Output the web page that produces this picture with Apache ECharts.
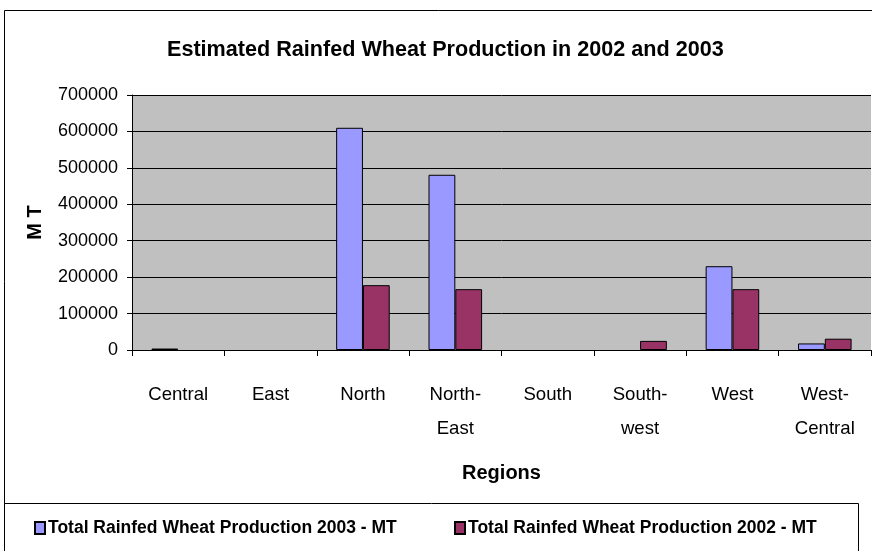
<!DOCTYPE html>
<html>
<head>
<meta charset="utf-8">
<script src="https://cdn.jsdelivr.net/npm/echarts@6/dist/echarts.min.js"></script>
<style>
html, body { margin: 0; padding: 0; background: #fff; }
#chart { width: 872px; height: 551px; }
</style>
</head>
<body>
<div id="chart"></div>
<script>
// Regions along the category axis
const regions = ['Central', 'East', 'North', 'North-\nEast', 'South', 'South-\nwest', 'West', 'West-\nCentral'];
// Production per region, metric tonnes
const production2003 = [4000, 0, 610000, 481000, 0, 0, 230000, 18000];
const production2002 = [0, 0, 178000, 167000, 0, 25000, 167000, 31000];
const seriesNames = ['Total Rainfed Wheat Production 2003 - MT', 'Total Rainfed Wheat Production 2002 - MT'];

const FONT = '"Liberation Sans", Arial, Helvetica, sans-serif';

// Empty regions get no outlined sliver on the axis
function barData(values) {
  return values.map(v => v === 0 ? { value: 0, itemStyle: { borderWidth: 0, opacity: 0 } } : v);
}

const legendText = { fontFamily: FONT, fontWeight: 'bold', fontSize: 17.5, color: '#000', padding: [0, 0, 0, -2] };

const chart = echarts.init(document.getElementById('chart'), null, { renderer: 'canvas' });

chart.setOption({
  animation: false,
  backgroundColor: '#ffffff',
  title: {
    text: 'Estimated Rainfed Wheat Production in 2002 and 2003',
    left: 162,
    top: 34,
    textStyle: { fontFamily: FONT, fontWeight: 'bold', fontSize: 21.6, color: '#000' }
  },
  graphic: [
    {
      type: 'rect', z: -10, silent: true,
      shape: { x: 4.5, y: 10.5, width: 900, height: 600 },
      style: { fill: 'none', stroke: '#000', lineWidth: 1 }
    },
    {
      type: 'rect', z: -5, silent: true,
      shape: { x: 4.5, y: 503.5, width: 854, height: 100 },
      style: { fill: '#fff', stroke: '#000', lineWidth: 1 }
    }
  ],
  legend: [
    {
      data: [seriesNames[0]],
      top: 519, left: 34, padding: 0,
      itemWidth: 10, itemHeight: 12, itemGap: 0,
      icon: 'rect',
      textStyle: legendText
    },
    {
      data: [seriesNames[1]],
      top: 519, left: 454, padding: 0,
      itemWidth: 10, itemHeight: 12, itemGap: 0,
      icon: 'rect',
      textStyle: legendText
    }
  ],
  grid: { left: 132, right: 1, top: 95, bottom: 201, backgroundColor: '#c0c0c0', show: true, borderWidth: 0 },
  xAxis: {
    type: 'category',
    data: regions,
    name: 'Regions',
    nameLocation: 'middle',
    nameGap: 113,
    nameTextStyle: { fontFamily: FONT, fontWeight: 'bold', fontSize: 20, color: '#000' },
    axisLine: { lineStyle: { color: '#000', width: 1 } },
    axisTick: { show: true, length: 6, lineStyle: { color: '#000' } },
    axisLabel: {
      fontFamily: FONT, fontSize: 18.6, color: '#000', margin: 28, lineHeight: 34,
      verticalAlign: 'top', interval: 0
    }
  },
  yAxis: {
    type: 'value',
    min: 0,
    max: 700000,
    interval: 100000,
    name: 'M T',
    nameLocation: 'middle',
    nameGap: 87,
    nameRotate: 90,
    nameTextStyle: { fontFamily: FONT, fontWeight: 'bold', fontSize: 20, color: '#000' },
    axisLine: { show: true, lineStyle: { color: '#000', width: 1 } },
    axisTick: { show: true, length: 5, lineStyle: { color: '#000' } },
    axisLabel: { fontFamily: FONT, fontSize: 18, color: '#000', margin: 14, formatter: v => String(v) },
    splitLine: { show: true, lineStyle: { color: '#000', width: 1 } }
  },
  series: [
    {
      name: seriesNames[0],
      type: 'bar',
      data: barData(production2003),
      barGap: '0%',
      barCategoryGap: '42%',
      itemStyle: { color: '#9999ff', borderColor: '#000', borderWidth: 1 }
    },
    {
      name: seriesNames[1],
      type: 'bar',
      data: barData(production2002),
      barGap: '0%',
      barCategoryGap: '42%',
      itemStyle: { color: '#993366', borderColor: '#000', borderWidth: 1 }
    }
  ]
});
</script>
</body>
</html>
